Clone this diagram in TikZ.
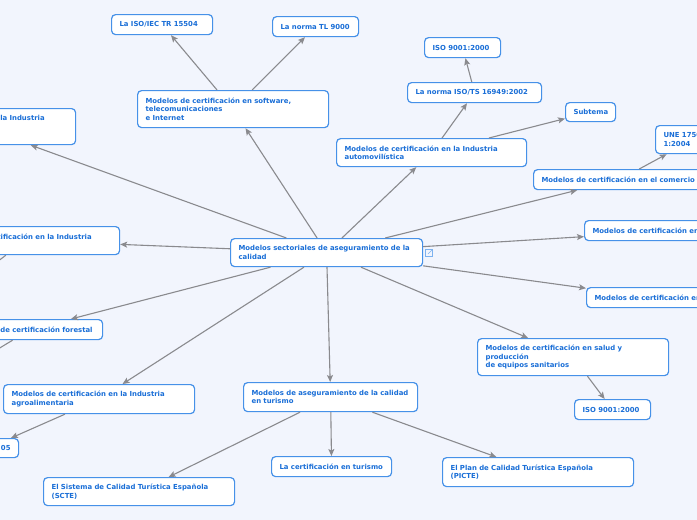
\documentclass[tikz,border=0pt]{standalone}
\usepackage{fontspec}
\setmainfont{DejaVu Sans}
\usetikzlibrary{arrows.meta}
\definecolor{bgblue}{RGB}{242,245,253}
\definecolor{topicblue}{RGB}{70,145,232}
\definecolor{textblue}{RGB}{25,110,215}
\definecolor{linegray}{RGB}{138,138,142}

\begin{document}
\begin{tikzpicture}[x=1pt,y=-1pt,
  topic/.style={draw=topicblue,line width=1.2pt,rounded corners=4pt,fill=white,
    text=textblue,font=\bfseries\fontsize{6.9}{8.6}\selectfont,align=left,
    anchor=north west,inner xsep=8pt,inner ysep=0pt},
  link/.style={draw=linegray,line width=1.1pt,-{Stealth[length=7pt,width=6pt,inset=1.5pt]}}]
\useasboundingbox (0,0) rectangle (697,520);
\clip (0,0) rectangle (697,520);
\fill[bgblue] (0,0) rectangle (697,520);
% Central topic
\node[topic,text width=176pt,minimum height=28pt] (root) at (230,238) {Modelos sectoriales de aseguramiento de la\\calidad};
\draw[topicblue!70,line width=0.6pt] (425.5,249.5) rectangle (432.5,256.5);
\draw[topicblue!70,line width=0.6pt] (428,254) -- (432.5,249.5) (430,249.5) -- (432.5,249.5) -- (432.5,252);
% Software
\node[topic,text width=175pt,minimum height=37pt] (soft) at (137,90) {Modelos de certificación en software,\\telecomunicaciones\\e Internet};
\node[topic,text width=85pt,minimum height=20pt] (iec) at (111,14) {La ISO/IEC TR 15504};
\node[topic,text width=70pt,minimum height=20pt] (tl) at (272,16) {La norma TL 9000};
% Automocion
\node[topic,text width=174pt,minimum height=28pt] (auto) at (336,138) {Modelos de certificación en la Industria\\automovilística};
\node[topic,text width=118pt,minimum height=20pt] (isots) at (407,82) {La norma ISO/TS 16949:2002};
\node[topic,text width=60pt,minimum height=20pt] (isoA) at (424,37) {ISO 9001:2000};
\node[topic,text width=34pt,minimum height=19pt] (sub) at (565,102) {Subtema};
% Comercio and right side
\node[topic,text width=156pt,minimum height=20pt] (com) at (533,169) {Modelos de certificación en el comercio};
\node[topic,text width=60pt,minimum height=28pt] (une) at (655,125) {UNE 175001-\\1:2004};
\node[topic,text width=178pt,minimum height=20pt] (certR) at (584,220) {Modelos de certificación en};
\node[topic,text width=120pt,minimum height=20pt] (certS) at (586,287) {Modelos de certificación en};
% Salud
\node[topic,text width=175pt,minimum height=37pt] (salud) at (477,338) {Modelos de certificación en salud y\\producción\\de equipos sanitarios};
\node[topic,text width=60pt,minimum height=20pt] (isoB) at (574,399) {ISO 9001:2000};
% Turismo
\node[topic,text width=158pt,minimum height=29pt] (tur) at (243,382) {Modelos de aseguramiento de la calidad\\en turismo};
\node[topic,text width=104pt,minimum height=20pt] (certtur) at (271,456) {La certificación en turismo};
\node[topic,text width=175pt,minimum height=29pt] (picte) at (442,457) {El Plan de Calidad Turística Española\\(PICTE)};
\node[topic,text width=175pt,minimum height=28pt] (scte) at (43,477) {El Sistema de Calidad Turística Española\\(SCTE)};
% Left side
\node[topic,text width=175pt,minimum height=29pt] (agro) at (3,384) {Modelos de certificación en la Industria\\agroalimentaria};
\node[topic,text width=45pt,minimum height=19pt,align=right] (agroB) at (-43,438) {05};
\node[topic,text width=176pt,minimum height=36pt] (indA) at (-117,108) {Modelos de certificación en la Industria\\\mbox{}\\\mbox{}};
\node[topic,text width=173pt,minimum height=28pt] (indB) at (-70,226) {Modelos de certificación en la Industria\\\mbox{}};
\node[topic,text width=129pt,minimum height=20pt] (forest) at (-43,319) {Modelos de certificación forestal};
\coordinate (indBout) at (-40,290);
\coordinate (forestout) at (-40,372);
% Connectors
\draw[link] (root) -- (soft);
\draw[link] (root) -- (auto);
\draw[link] (root) -- (com);
\draw[link] (root) -- (certR);
\draw[link] (root) -- (certS);
\draw[link] (root) -- (salud);
\draw[link] (root) -- (tur);
\draw[link] (root) -- (agro);
\draw[link] (root) -- (forest);
\draw[link] (root) -- (indB);
\draw[link] (root) -- (indA);
\draw[link] (soft) -- (iec);
\draw[link] (soft) -- (tl);
\draw[link] (auto) -- (isots);
\draw[link] (auto) -- (sub);
\draw[link] (isots) -- (isoA);
\draw[link] (com) -- (une);
\draw[link] (salud) -- (isoB);
\draw[link] (tur) -- (certtur);
\draw[link] (tur) -- (picte);
\draw[link] (tur) -- (scte);
\draw[link] (agro) -- (agroB);
\draw[link] (indB) -- (indBout);
\draw[link] (forest) -- (forestout);
\end{tikzpicture}
\end{document}
